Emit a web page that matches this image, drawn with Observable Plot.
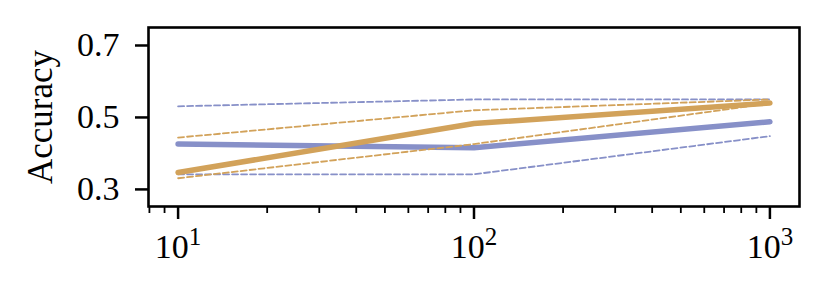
<!DOCTYPE html>
<html>
<head>
<meta charset="utf-8">
<script src="https://cdn.jsdelivr.net/npm/d3@7"></script>
<script src="https://cdn.jsdelivr.net/npm/@observablehq/plot@0.6"></script>
<style>
  html, body { margin: 0; padding: 0; background: white; }
</style>
</head>
<body>
<div id="chart"></div>
<script>
const xs = [10, 100, 1000];
const blueMean  = [0.426, 0.416, 0.488];
const blueUpper = [0.531, 0.550, 0.550];
const blueLower = [0.342, 0.342, 0.448];
const orangeMean  = [0.347, 0.483, 0.540];
const orangeUpper = [0.444, 0.520, 0.550];
const orangeLower = [0.331, 0.426, 0.539];

const yTicks = [0.3, 0.5, 0.7];
const xMajorTicks = [10, 100, 1000];
const xMinorTicks = [8, 9, 20, 30, 40, 50, 60, 70, 80, 90, 200, 300, 400, 500, 600, 700, 800, 900];
const supers = {10: "1", 100: "2", 1000: "3"};

const blue = "#8790c8";
const orange = "#d2a25a";

const dashed = (ys, color) => Plot.line(xs, {x: d => d, y: (d, i) => ys[i], stroke: color, strokeWidth: 1.8, strokeDasharray: "6,3"});
const solid = (ys, color) => Plot.line(xs, {x: d => d, y: (d, i) => ys[i], stroke: color, strokeWidth: 5.5});

const chart = Plot.plot({
  width: 827,
  height: 294,
  marginLeft: 148,
  marginRight: 28,
  marginTop: 27,
  marginBottom: 88,
  style: "font-family: 'Liberation Serif', serif; font-size: 34px; background: white; color: black; overflow: visible;",
  x: {type: "log", domain: [Math.pow(10, 0.9), Math.pow(10, 3.1)]},
  y: {domain: [0.2525, 0.75]},
  marks: [
    dashed(blueUpper, blue),
    dashed(blueLower, blue),
    solid(blueMean, blue),
    dashed(orangeUpper, orange),
    dashed(orangeLower, orange),
    solid(orangeMean, orange),
    Plot.axisY({ticks: yTicks, tickFormat: d3.format(".1f"), tickSize: 13, tickPadding: 16, strokeWidth: 2.5, label: null}),
    Plot.axisX({ticks: xMinorTicks, tickSize: 7, strokeWidth: 1.8, tickFormat: () => "", label: null}),
    Plot.axisX({ticks: xMajorTicks, tickSize: 13, tickPadding: 14, strokeWidth: 2.5, tickFormat: d => "10^" + supers[d], label: null}),
    Plot.frame({stroke: "black", strokeWidth: 2.6}),
    Plot.text(["Accuracy"], {frameAnchor: "left", textAnchor: "middle", lineAnchor: "middle", rotate: -90, dx: -108, fontSize: 35})
  ]
});

document.getElementById("chart").appendChild(chart);

// Render exponents as superscripts
d3.select(chart).selectAll('g[aria-label="x-axis tick label"] text').each(function() {
  const t = d3.select(this);
  const s = t.text();
  if (!s.includes("^")) return;
  const [base, exp] = s.split("^");
  t.text(null);
  t.append("tspan").text(base);
  t.append("tspan").attr("dy", "-13").attr("font-size", "25px").text(exp);
});
</script>
</body>
</html>
